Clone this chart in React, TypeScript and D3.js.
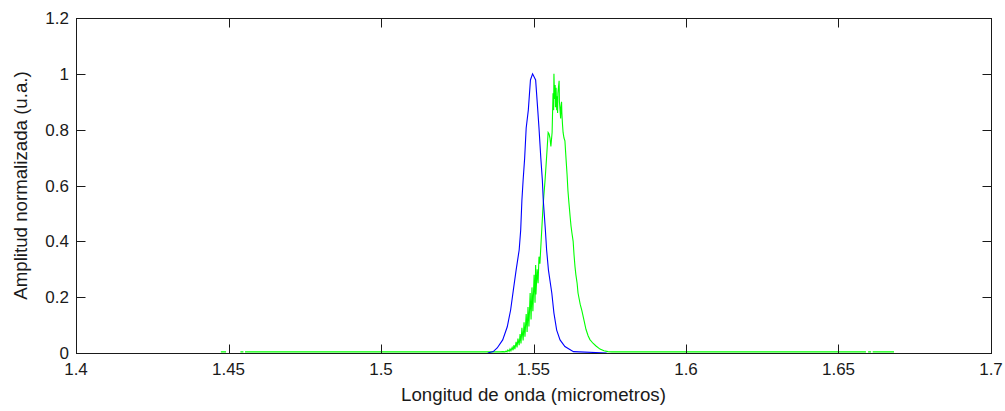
import React from 'react';
import * as d3 from 'd3';

const xTicks = [1.4, 1.45, 1.5, 1.55, 1.6, 1.65, 1.7];
const xTickLabels = ['1.4', '1.45', '1.5', '1.55', '1.6', '1.65', '1.7'];
const yTicks = [0, 0.2, 0.4, 0.6, 0.8, 1, 1.2];
const yTickLabels = ['0', '0.2', '0.4', '0.6', '0.8', '1', '1.2'];
const xLabel = 'Longitud de onda (micrometros)';
const yLabel = 'Amplitud normalizada (u.a.)';

// Blue spectrum (reference pulse)
const blueWl = [
  1.5350, 1.5368, 1.5381, 1.5399, 1.5414, 1.5425, 1.5434, 1.5443, 1.5453, 1.5458,
  1.5462, 1.5466, 1.5471, 1.5476, 1.5483, 1.5490, 1.5497, 1.5507, 1.5514, 1.5518,
  1.5524, 1.5529, 1.5532, 1.5539, 1.5543, 1.5549, 1.5560, 1.5567, 1.5576, 1.5587,
  1.5603, 1.5631, 1.5740,
];
const blueAmp = [
  0.000, 0.005, 0.018, 0.047, 0.094, 0.154, 0.226, 0.297, 0.369, 0.440,
  0.548, 0.620, 0.698, 0.806, 0.870, 0.978, 1.000, 0.978, 0.870, 0.806,
  0.698, 0.620, 0.548, 0.440, 0.369, 0.297, 0.215, 0.143, 0.082, 0.047,
  0.023, 0.005, 0.000,
];

// Green spectrum (shifted, noisy pulse); NaN marks gaps in the trace
const greenWl = [
  1.4475, 1.4492, NaN,
  1.4539, 1.4549, NaN,
  1.4554, 1.5000, 1.5390, 1.5400, 1.5407, 1.5410, 1.5413, 1.5416, 1.5420, 1.5423,
  1.5426, 1.5430, 1.5433, 1.5436, 1.5439, 1.5443, 1.5446, 1.5449, 1.5453, 1.5456,
  1.5459, 1.5462, 1.5466, 1.5469, 1.5472, 1.5476, 1.5479, 1.5482, 1.5485, 1.5489,
  1.5492, 1.5495, 1.5498, 1.5502, 1.5505, 1.5507, 1.5508, 1.5512, 1.5515, 1.5518,
  1.5521, 1.5525, 1.5528, 1.5531, 1.5534, 1.5538, 1.5541, 1.5544, 1.5548, 1.5551,
  1.5554, 1.5557, 1.5561, 1.5564, 1.5566, 1.5567, 1.5569, 1.5571, 1.5572, 1.5574,
  1.5576, 1.5577, 1.5579, 1.5580, 1.5584, 1.5585, 1.5587, 1.5589, 1.5590, 1.5592,
  1.5593, 1.5595, 1.5597, 1.5600, 1.5603, 1.5607, 1.5610, 1.5613, 1.5616, 1.5620,
  1.5623, 1.5626, 1.5630, 1.5633, 1.5636, 1.5639, 1.5643, 1.5646, 1.5653, 1.5659,
  1.5666, 1.5672, 1.5679, 1.5685, 1.5695, 1.5705, 1.5718, 1.5731, 1.5744, 1.5757,
  1.6000, 1.6590, NaN,
  1.6597, 1.6607, NaN,
  1.6612, 1.6682,
];
const greenAmp = [
  0.004, 0.004, NaN,
  0.004, 0.004, NaN,
  0.004, 0.004, 0.004, 0.005, 0.004, 0.007, 0.004, 0.011, 0.006, 0.015,
  0.008, 0.020, 0.010, 0.028, 0.014, 0.040, 0.020, 0.052, 0.028, 0.068,
  0.034, 0.090, 0.045, 0.110, 0.058, 0.140, 0.075, 0.165, 0.095, 0.215,
  0.120, 0.235, 0.150, 0.280, 0.180, 0.315, 0.210, 0.300, 0.250, 0.345,
  0.320, 0.400, 0.460, 0.520, 0.565, 0.620, 0.670, 0.720, 0.790, 0.785,
  0.770, 0.740, 0.790, 0.930, 0.870, 1.000, 0.910, 0.960, 0.880, 0.950,
  0.870, 0.920, 0.860, 0.930, 0.975, 0.900, 0.870, 0.840, 0.880, 0.900,
  0.860, 0.820, 0.790, 0.770, 0.760, 0.690, 0.640, 0.580, 0.540, 0.490,
  0.455, 0.430, 0.400, 0.350, 0.310, 0.280, 0.250, 0.215, 0.175, 0.150,
  0.115, 0.085, 0.062, 0.048, 0.035, 0.025, 0.014, 0.008, 0.005, 0.004,
  0.004, 0.004, NaN,
  0.004, 0.004, NaN,
  0.004, 0.004,
];

const W = 1005;
const H = 411;
const L = 76;
const R = 991;
const T = 18;
const B = 353;
const AX = '#1a1a1a';
const FONT = "'Liberation Sans', Arial, Helvetica, sans-serif";

export default function App() {
  const x = d3.scaleLinear().domain([1.4, 1.7]).range([L, R]);
  const y = d3.scaleLinear().domain([0, 1.2]).range([B, T]);

  const line = d3
    .line<[number, number]>()
    .defined((d) => !isNaN(d[0]) && !isNaN(d[1]))
    .x((d) => x(d[0]))
    .y((d) => y(d[1]));

  const blue: [number, number][] = blueWl.map((w, i) => [w, blueAmp[i]]);
  const green: [number, number][] = greenWl.map((w, i) => [w, greenAmp[i]]);
  const tickLen = 9;

  return (
    <svg
      width={W}
      height={H}
      style={{ position: 'absolute', left: 0, top: 0, background: '#fff' }}
      fontFamily={FONT}
    >
      <rect x={0} y={0} width={W} height={H} fill="#fff" />
      <path d={line(green) || ''} fill="none" stroke="#00ff00" strokeWidth={1.1} />
      <path d={line(blue) || ''} fill="none" stroke="#0000ff" strokeWidth={1.1} />
      <rect x={L + 0.5} y={T + 0.5} width={R - L} height={B - T} fill="none" stroke={AX} strokeWidth={1} />
      {xTicks.map((t, i) => {
        const px = Math.round(x(t)) + 0.5;
        return (
          <g key={'x' + i}>
            <line x1={px} x2={px} y1={B + 0.5} y2={B + 0.5 - tickLen} stroke={AX} />
            <line x1={px} x2={px} y1={T + 0.5} y2={T + 0.5 + tickLen} stroke={AX} />
            <text x={x(t)} y={375} textAnchor="middle" fontSize={17} fill={AX}>
              {xTickLabels[i]}
            </text>
          </g>
        );
      })}
      {yTicks.map((t, i) => {
        const py = Math.round(y(t)) + 0.5;
        return (
          <g key={'y' + i}>
            <line x1={L + 0.5} x2={L + 0.5 + tickLen} y1={py} y2={py} stroke={AX} />
            <line x1={R + 0.5} x2={R + 0.5 - tickLen} y1={py} y2={py} stroke={AX} />
            <text x={69} y={y(t) + 6} textAnchor="end" fontSize={17} fill={AX}>
              {yTickLabels[i]}
            </text>
          </g>
        );
      })}
      <text x={(L + R) / 2} y={401} textAnchor="middle" fontSize={18.7} fill={AX}>
        {xLabel}
      </text>
      <text
        transform={`translate(27, ${(T + B) / 2}) rotate(-90)`}
        textAnchor="middle"
        fontSize={18.7}
        fill={AX}
      >
        {yLabel}
      </text>
    </svg>
  );
}
